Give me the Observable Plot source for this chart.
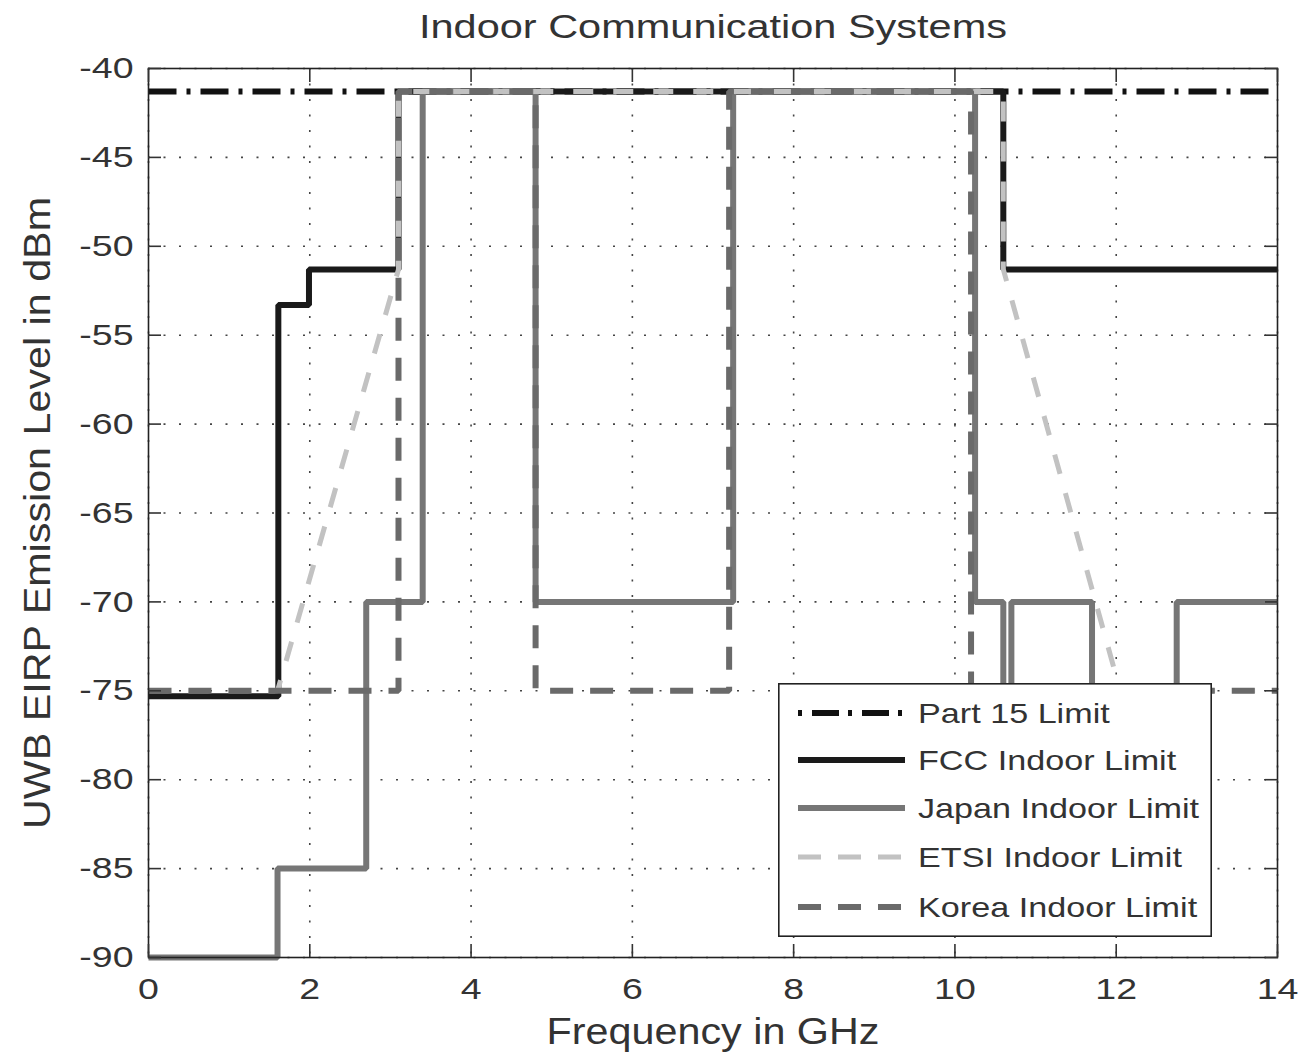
<!DOCTYPE html>
<html>
<head>
<meta charset="utf-8">
<script src="https://cdn.jsdelivr.net/npm/d3@7"></script>
<script src="https://cdn.jsdelivr.net/npm/@observablehq/plot@0.6"></script>
<style>
  body { margin: 0; background: #fff; }
  #wrap { position: relative; width: 1299px; height: 1056px; }
  #legend { position: absolute; left: 778px; top: 683px; }
</style>
</head>
<body>
<div id="wrap"></div>
<script>
// ---------- data ----------
const titleText = "Indoor Communication Systems";
const xLabelText = "Frequency in GHz";
const yLabelText = "UWB EIRP Emission Level in dBm";

const xTicks = [0, 2, 4, 6, 8, 10, 12, 14];
const yTicks = [-90, -85, -80, -75, -70, -65, -60, -55, -50, -45, -40];

const seriesNames = ["Part 15 Limit", "FCC Indoor Limit", "Japan Indoor Limit", "ETSI Indoor Limit", "Korea Indoor Limit"];

const part15Freq  = [0, 14];
const part15Level = [-41.3, -41.3];

const fccFreq  = [0, 1.61, 1.61, 1.99, 1.99, 3.1, 3.1, 10.6, 10.6, 14];
const fccLevel = [-75.3, -75.3, -53.3, -53.3, -51.3, -51.3, -41.3, -41.3, -51.3, -51.3];

const japanFreq  = [0, 1.6, 1.6, 2.7, 2.7, 3.4, 3.4, 4.8, 4.8, 7.25, 7.25, 10.25, 10.25, 10.6, 10.6, 10.7, 10.7, 11.7, 11.7, 12.75, 12.75, 14];
const japanLevel = [-90, -90, -85, -85, -70, -70, -41.3, -41.3, -70, -70, -41.3, -41.3, -70, -70, -85, -85, -70, -70, -85, -85, -70, -70];

const etsiFreq  = [0, 1.6, 3.1, 3.1, 10.6, 10.6, 12.05, 14];
const etsiLevel = [-75, -75, -51.3, -41.3, -41.3, -51.3, -75, -75];

const koreaFreq  = [0, 3.1, 3.1, 4.8, 4.8, 7.2, 7.2, 10.2, 10.2, 14];
const koreaLevel = [-75, -75, -41.3, -41.3, -75, -75, -41.3, -41.3, -75, -75];

// ---------- styles ----------
const styles = [
  {stroke: "#111", strokeWidth: 6, dash: "28,10,4,10", legendDash: "4,10,27,9"},
  {stroke: "#1a1a1a", strokeWidth: 6, dash: null, legendDash: null},
  {stroke: "#767676", strokeWidth: 6, dash: null, legendDash: null},
  {stroke: "#c2c2c2", strokeWidth: 5, dash: "20,20", legendDash: "23,17"},
  {stroke: "#6a6a6a", strokeWidth: 6, dash: "23,17", legendDash: "23,17"}
];
const seriesData = [
  d3.zip(part15Freq, part15Level),
  d3.zip(fccFreq, fccLevel),
  d3.zip(japanFreq, japanLevel),
  d3.zip(etsiFreq, etsiLevel),
  d3.zip(koreaFreq, koreaLevel)
];

const gridStyle = {stroke: "#444", strokeOpacity: 1, strokeWidth: 1.6, strokeDasharray: "2,13.5"};
const fmt = d => String(d);
const blank = () => "";

const lineMarks = seriesData.map((data, i) => Plot.line(data, {
  x: d => d[0], y: d => d[1],
  stroke: styles[i].stroke, strokeWidth: styles[i].strokeWidth,
  strokeDasharray: styles[i].dash, strokeLinecap: "butt", strokeLinejoin: "miter"
}));

const chart = Plot.plot({
  width: 1299, height: 1056,
  marginTop: 68, marginBottom: 99, marginLeft: 148, marginRight: 22,
  x: {domain: [0, 14]},
  y: {domain: [-90, -40]},
  style: {fontFamily: "'Liberation Sans', Arial, Helvetica, sans-serif", color: "#333", background: "white"},
  marks: [
    Plot.gridX(xTicks, gridStyle),
    Plot.gridY(yTicks, gridStyle),
    ...lineMarks,
    Plot.frame({stroke: "#222", strokeWidth: 1.6}),
    Plot.axisX(xTicks, {anchor: "bottom", tickSize: -13, tickFormat: blank, label: null, strokeWidth: 1.6}),
    Plot.axisX(xTicks, {anchor: "top", tickSize: -13, tickFormat: blank, label: null, strokeWidth: 1.6}),
    Plot.axisY(yTicks, {anchor: "left", tickSize: -13, tickFormat: blank, label: null, strokeWidth: 1.6}),
    Plot.axisY(yTicks, {anchor: "right", tickSize: -13, tickFormat: blank, label: null, strokeWidth: 1.6}),
    Plot.axisX(xTicks, {anchor: "bottom", tickSize: 0, tickPadding: 20, tickFormat: fmt, label: null, fontSize: 30}),
    Plot.axisY(yTicks, {anchor: "left", tickSize: 0, tickPadding: 15, tickFormat: fmt, label: null, fontSize: 30}),
    Plot.text([titleText], {text: d => d, frameAnchor: "top", lineAnchor: "middle", dy: -41, fontSize: 34, fill: "#333"}),
    Plot.text([xLabelText], {text: d => d, frameAnchor: "bottom", lineAnchor: "middle", dy: 75, fontSize: 36, fill: "#333"}),
    Plot.text([yLabelText], {text: d => d, frameAnchor: "left", lineAnchor: "middle", textAnchor: "middle", rotate: -90, dx: -110, fontSize: 36, fill: "#333"})
  ]
});

const wrap = document.getElementById("wrap");
wrap.appendChild(chart);

// ---------- legend ----------
const NS = "http://www.w3.org/2000/svg";
const leg = document.createElementNS(NS, "svg");
leg.setAttribute("id", "legend");
leg.setAttribute("width", 434);
leg.setAttribute("height", 254);
leg.style.fontFamily = "'Liberation Sans', Arial, Helvetica, sans-serif";
const bg = document.createElementNS(NS, "rect");
bg.setAttribute("x", 0.8); bg.setAttribute("y", 0.8);
bg.setAttribute("width", 432.4); bg.setAttribute("height", 252.4);
bg.setAttribute("fill", "#fff"); bg.setAttribute("stroke", "#222"); bg.setAttribute("stroke-width", 1.6);
leg.appendChild(bg);
const rowY = [30, 77, 125, 174, 224];
seriesNames.forEach((name, i) => {
  const ln = document.createElementNS(NS, "line");
  ln.setAttribute("x1", 20); ln.setAttribute("x2", 127);
  ln.setAttribute("y1", rowY[i]); ln.setAttribute("y2", rowY[i]);
  ln.setAttribute("stroke", styles[i].stroke);
  ln.setAttribute("stroke-width", styles[i].strokeWidth);
  if (styles[i].legendDash) ln.setAttribute("stroke-dasharray", styles[i].legendDash);
  leg.appendChild(ln);
  const tx = document.createElementNS(NS, "text");
  tx.setAttribute("x", 140); tx.setAttribute("y", rowY[i] + 10);
  tx.setAttribute("font-size", 28); tx.setAttribute("fill", "#333");
  tx.setAttribute("class", "legtext");
  tx.textContent = name;
  leg.appendChild(tx);
});
wrap.appendChild(leg);

// ---------- horizontal stretch of text (scanned-figure look) ----------
const targetWidths = new Map([[titleText, 588], [xLabelText, 333], [yLabelText, 632]]);
function setLen(t, len) {
  t.setAttribute("textLength", len);
  t.setAttribute("lengthAdjust", "spacingAndGlyphs");
}
chart.querySelectorAll("text").forEach(t => {
  const L = t.getComputedTextLength();
  if (!(L > 0)) return;
  setLen(t, targetWidths.has(t.textContent) ? targetWidths.get(t.textContent) : L * 1.25);
});
leg.querySelectorAll("text.legtext").forEach(t => setLen(t, t.getComputedTextLength() * 1.22));
</script>
</body>
</html>
